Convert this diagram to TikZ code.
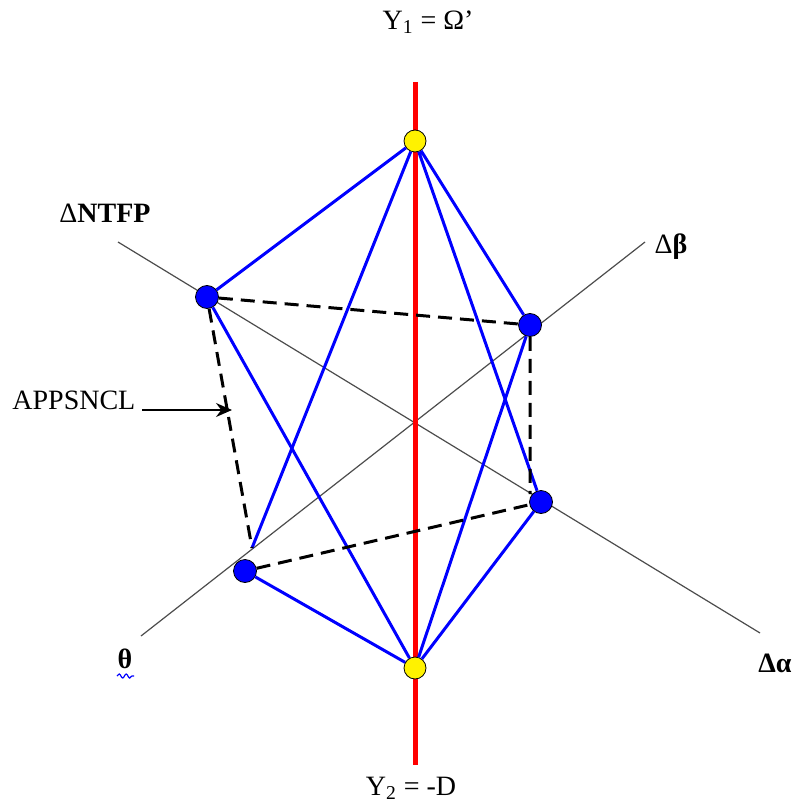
\documentclass[tikz,border=0pt]{standalone}
\usepackage{fontspec}
\setmainfont{Liberation Serif}
\usetikzlibrary{arrows.meta,shapes,decorations.pathmorphing}

\tikzset{
  axis/.style={draw=black!70,line width=0.6pt},
  leg/.style={draw=blue,line width=1.5pt},
  link/.style={draw=black,line width=1.5pt,dash pattern=on 7pt off 4pt},
  bpt/.style={circle,fill=blue,draw=black,line width=0.4pt,inner sep=0pt,minimum size=11.5pt},
  ypt/.style={circle,fill=yellow,draw=black,line width=0.4pt,inner sep=0pt,minimum size=11pt},
  lab/.style={font=\fontsize{14}{16}\selectfont,inner sep=0pt}
}

\begin{document}
\begin{tikzpicture}[x=0.5pt,y=-0.5pt]
\useasboundingbox (0,0) rectangle (794,802);
% axes
\coordinate (n1) at (118,242);
\coordinate (n2) at (760,633);
\coordinate (b1) at (141,636);
\coordinate (b2) at (645,242);
\coordinate (v1) at (415,82);
\coordinate (v2) at (415,765);
\draw[axis] (n1)--(n2) (b1)--(b2);
\draw[red,line width=2.5pt] (v1)--(v2);
% points
\node[ypt] (T) at (415,141){};
\node[ypt] (Bo) at (415,668){};
\node[bpt] (A) at (207,297){};
\node[bpt] (B) at (530,325){};
\node[bpt] (C) at (541,502){};
\node[bpt] (D) at (245,571){};
\coordinate (dq) at (252,548);
\coordinate (cq) at (530,494);
% blue legs
\draw[leg] (T)--(A) (T)--(B) (T)--(C) (T)--(dq);
\draw[leg] (Bo)--(D) (Bo)--(A) (Bo)--(B) (Bo)--(C);
% dashed links
\draw[link] (A)--(B) (A)--(dq) (B)--(cq) (D)--(C);
% labels
\node[lab] (y1) at (428,22){Y\textsubscript{1} = Ω’};
\node[lab] (y2) at (411,788){Y\textsubscript{2} = -D};
\node[lab] (ntfp) at (105,213){Δ\textbf{NTFP}};
\node[lab] (dbeta) at (671,247){Δ\textbf{β}};
\node[lab] (theta) at (125,659){\textbf{θ}};
\node[lab] (dalpha) at (775,663){\textbf{Δα}};
\node[lab,anchor=west] (apps) at (12,400){APPSNCL};
\coordinate (at) at (142,410);
\coordinate (ah) at (232,410);
\draw[line width=0.9pt,-{Stealth[length=8pt,width=7pt]}] (at)--(ah);
\coordinate (w1) at (117,676);
\coordinate (w2) at (134,676);
\draw[blue,line width=0.6pt,decorate,decoration={snake,amplitude=1pt,segment length=3.5pt}] (w1)--(w2);
\end{tikzpicture}
\end{document}
